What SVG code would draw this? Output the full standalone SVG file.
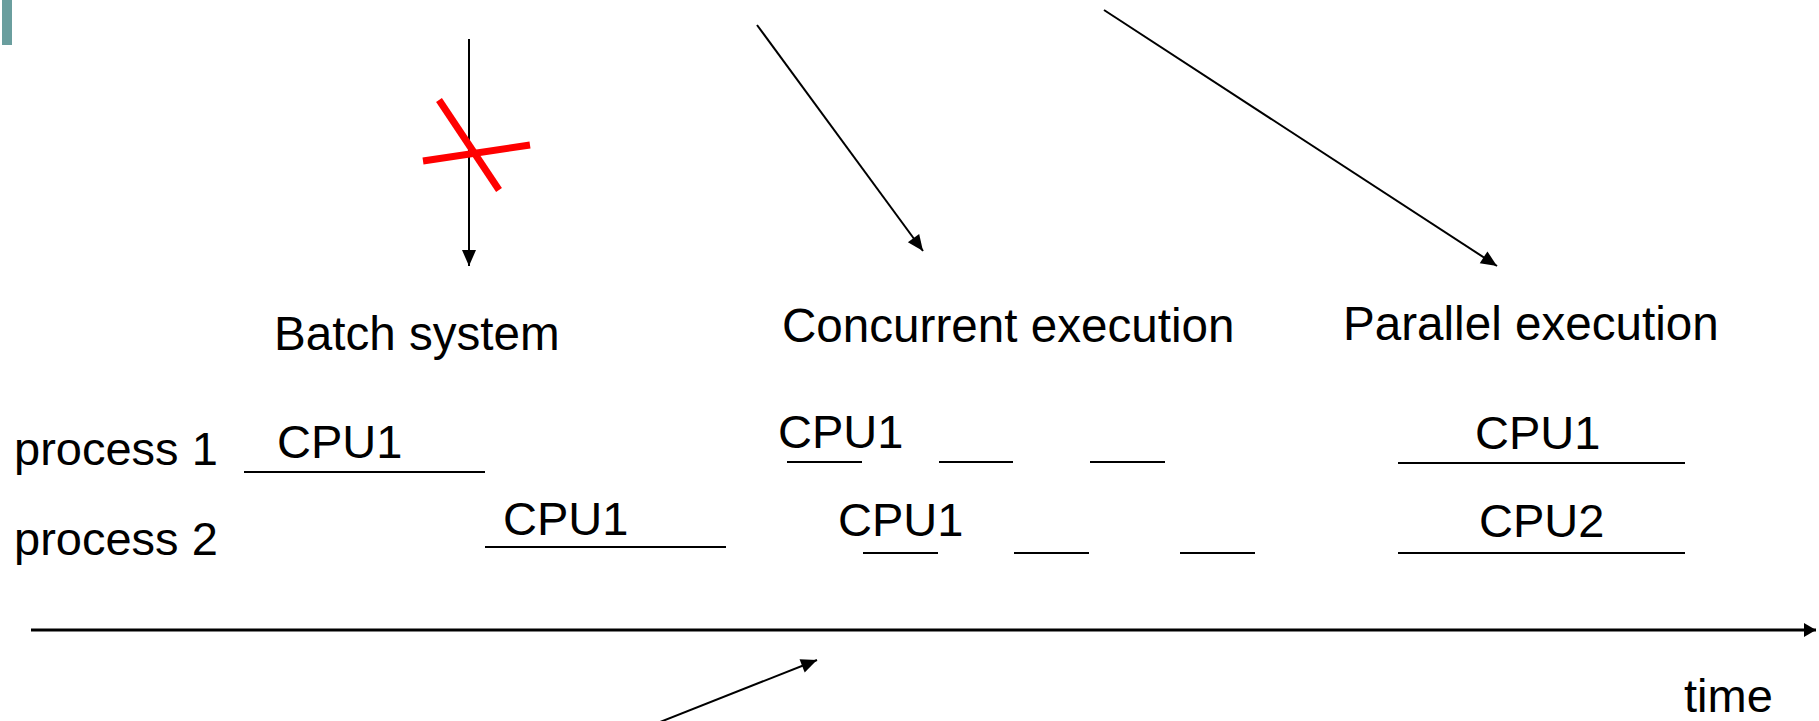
<svg xmlns="http://www.w3.org/2000/svg" width="1819" height="721" viewBox="0 0 1819 721">
  <style>
    .t { font-family: "Liberation Sans", Arial, sans-serif; font-size: 47px; fill: #000; }
    .h { font-size: 47.6px; }
    .seg { stroke: #000; stroke-width: 2; fill: none; }
    .arr { stroke: #000; stroke-width: 2; fill: none; marker-end: url(#head); }
    .cross { stroke: #ff0000; stroke-width: 7; stroke-linecap: butt; }
  </style>
  <defs>
    <marker id="head" markerUnits="userSpaceOnUse" markerWidth="16" markerHeight="14" refX="16" refY="7" orient="auto" overflow="visible">
      <path d="M0,0 L16,7 L0,14 Z" fill="#000"/>
    </marker>
    <marker id="axisHead" markerUnits="userSpaceOnUse" markerWidth="12" markerHeight="14" refX="12" refY="7" orient="auto" overflow="visible">
      <path d="M0,0 L12,7 L0,14 Z" fill="#000"/>
    </marker>
  </defs>
  <rect width="1819" height="721" fill="#fff"/>
  <rect id="accent" x="2" y="0" width="10" height="45" fill="#6a9e9e"/>

  <g id="connectors">
    <line class="arr" x1="469" y1="39" x2="469" y2="266"/>
    <line class="arr" x1="757" y1="25" x2="923" y2="251"/>
    <line class="arr" x1="1104" y1="10" x2="1497" y2="266"/>
    <line class="arr" x1="655" y1="724" x2="817" y2="660"/>
    <line x1="31" y1="630" x2="1816" y2="630" stroke="#000" stroke-width="3" marker-end="url(#axisHead)"/>
  </g>

  <g id="red-cross">
    <line class="cross" x1="439" y1="100" x2="499" y2="190"/>
    <line class="cross" x1="423" y1="161" x2="530" y2="145"/>
  </g>

  <g id="process-labels">
    <text class="t" x="14" y="465">process 1</text>
    <text class="t" x="14" y="555">process 2</text>
  </g>

  <g id="batch-system">
    <text class="t h" x="274" y="350">Batch system</text>
    <text class="t" x="277" y="458">CPU1</text>
    <line class="seg" x1="244" y1="472" x2="485" y2="472"/>
    <text class="t" x="503" y="535">CPU1</text>
    <line class="seg" x1="485" y1="547" x2="726" y2="547"/>
  </g>

  <g id="concurrent-execution">
    <text class="t h" x="782" y="342">Concurrent execution</text>
    <text class="t" x="778" y="448">CPU1</text>
    <line class="seg" x1="787" y1="462" x2="862" y2="462"/>
    <line class="seg" x1="939" y1="462" x2="1013" y2="462"/>
    <line class="seg" x1="1090" y1="462" x2="1165" y2="462"/>
    <text class="t" x="838" y="536">CPU1</text>
    <line class="seg" x1="863" y1="553" x2="938" y2="553"/>
    <line class="seg" x1="1014" y1="553" x2="1089" y2="553"/>
    <line class="seg" x1="1180" y1="553" x2="1255" y2="553"/>
  </g>

  <g id="parallel-execution">
    <text class="t h" x="1343" y="340">Parallel execution</text>
    <text class="t" x="1475" y="449">CPU1</text>
    <line class="seg" x1="1398" y1="463" x2="1685" y2="463"/>
    <text class="t" x="1479" y="537">CPU2</text>
    <line class="seg" x1="1398" y1="553" x2="1685" y2="553"/>
  </g>

  <g id="time-label">
    <text class="t" x="1684" y="712">time</text>
  </g>
</svg>
